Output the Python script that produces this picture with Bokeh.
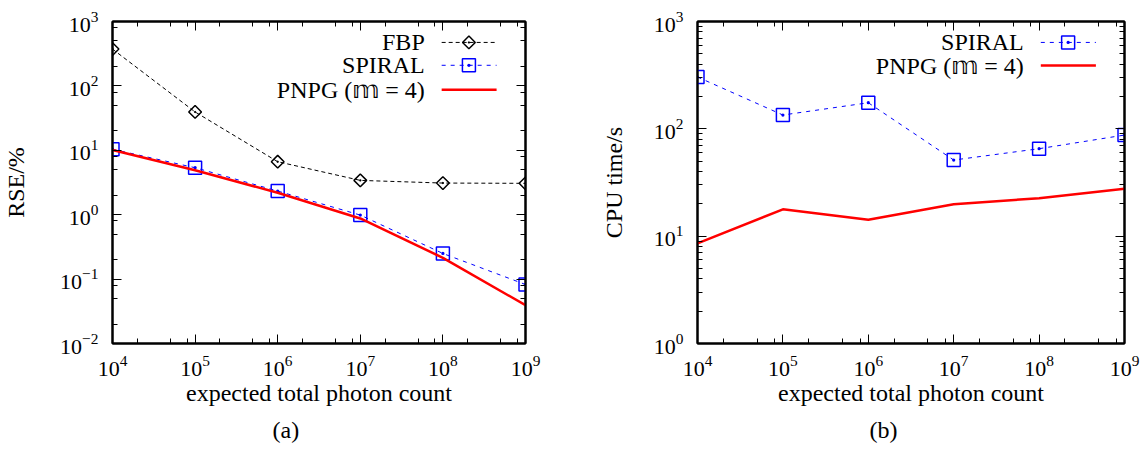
import math
from bokeh.plotting import figure
from bokeh.models import (FixedTicker, LogTickFormatter, CustomJSTickFormatter,
                          Range1d, LinearScale, LogAxis)
from bokeh.layouts import row
from bokeh.embed import file_html
from bokeh.resources import INLINE
from bokeh.core.properties import value

# ---------------- data ----------------
photons = [1e4, 1e5, 1e6, 1e7, 1e8, 1e9]
rse_fbp = [373, 39.4, 6.65, 3.41, 3.10, 3.07]
rse_spiral = [10.4, 5.36, 2.33, 0.986, 0.25, 0.0824]
rse_pnpg = [10.1, 4.89, 2.19, 0.875, 0.214, 0.0393]
cpu_spiral = [304, 134.5, 175, 51.2, 65.3, 87.5]
cpu_pnpg = [8.57, 17.8, 14.2, 19.8, 22.6, 27.7]

x_major = [1e4, 1e5, 1e6, 1e7, 1e8, 1e9]
x_minor = [m * 10.0 ** e for e in range(4, 9) for m in (2, 5, 8)]
rse_major = [1e-2, 1e-1, 1e0, 1e1, 1e2, 1e3]
rse_minor = [m * 10.0 ** e for e in range(-2, 3) for m in (2, 5, 8)]
cpu_major = [1e0, 1e1, 1e2, 1e3]
cpu_minor = [m * 10.0 ** e for e in range(0, 3) for m in range(2, 10)]

labels_a = ["FBP", "SPIRAL", "PNPG (\U0001D55E = 4)"]
labels_b = ["SPIRAL", "PNPG (\U0001D55E = 4)"]
xlabel = "expected total photon count"
ylabel_a = "RSE/%"
ylabel_b = "CPU time/s"

SERIF = "Liberation Serif"
BLUE = "#0000ff"
RED = "#ff0000"
BLACK = "#000000"


def style_axis(ax, major, minor, labels=True):
    ax.ticker = FixedTicker(ticks=major, minor_ticks=minor)
    ax.major_tick_in = 9
    ax.major_tick_out = 0
    ax.minor_tick_in = 5
    ax.minor_tick_out = 0
    ax.major_tick_line_color = BLACK
    ax.minor_tick_line_color = BLACK
    ax.major_tick_line_width = 1
    ax.minor_tick_line_width = 1
    ax.axis_line_color = BLACK
    ax.axis_line_width = 2
    if labels:
        ax.formatter = LogTickFormatter()
        ax.major_label_text_font = SERIF
        ax.major_label_text_font_size = "22px"
        ax.major_label_text_color = BLACK
        ax.axis_label_text_font = SERIF
        ax.axis_label_text_font_size = "24px"
        ax.axis_label_text_font_style = "normal"
        ax.axis_label_text_color = BLACK
    else:
        ax.formatter = CustomJSTickFormatter(code="return ''")
        ax.major_label_text_font_size = "0px"
        ax.major_label_standoff = 0


def make_panel(yr, ymaj, ymin, ylabel, ylab_standoff, caption, cap_offset, fw, bl, br):
    p = figure(x_axis_type="log", y_axis_type="log",
               x_range=Range1d(1e4, 1e9), y_range=Range1d(*yr),
               frame_width=fw, frame_height=322,
               min_border_left=bl, min_border_right=br,
               min_border_top=21, min_border_bottom=108,
               output_backend="svg", toolbar_location=None,
               title=caption, title_location="below")
    p.outline_line_color = BLACK
    p.outline_line_width = 2
    p.grid.visible = False
    p.title.text_font = SERIF
    p.title.text_font_size = "24px"
    p.title.text_font_style = "normal"
    p.title.text_color = BLACK
    p.title.align = "left"
    p.title.offset = cap_offset
    p.title.standoff = 13

    for xa in p.xaxis:
        style_axis(xa, x_major, x_minor)
        xa.axis_label = xlabel
        xa.major_label_standoff = 12
        xa.axis_label_standoff = 1
    for ya in p.yaxis:
        style_axis(ya, ymaj, ymin)
        ya.axis_label = ylabel
        ya.major_label_standoff = 14
        ya.axis_label_standoff = ylab_standoff

    top = LogAxis()
    style_axis(top, x_major, x_minor, labels=False)
    p.add_layout(top, "above")
    right = LogAxis()
    style_axis(right, ymaj, ymin, labels=False)
    p.add_layout(right, "right")

    # legend frame (0..1 over the plot frame)
    p.extra_x_ranges = {"leg": Range1d(0, 1)}
    p.extra_y_ranges = {"leg": Range1d(0, 1)}
    p.extra_x_scales = {"leg": LinearScale()}
    p.extra_y_scales = {"leg": LinearScale()}
    return p


def legend_entry(p, label, yfrac, text_right, x0, x1, xm, line_kw, marker_kw=None):
    p.text(x=[text_right], y=[yfrac], text=[label], x_range_name="leg", y_range_name="leg",
           text_align="right", text_baseline="middle", text_font=value(SERIF),
           text_font_size="24px", text_color=BLACK)
    p.line(x=[x0, x1], y=[yfrac, yfrac], x_range_name="leg", y_range_name="leg", **line_kw)
    if marker_kw:
        p.scatter(x=[xm], y=[yfrac], x_range_name="leg", y_range_name="leg", **marker_kw)


fbp_line = dict(line_color=BLACK, line_width=1, line_dash="4 3")
fbp_mark = dict(marker="square_dot", angle=math.pi / 4, size=9, fill_color=None,
                line_color=BLACK, line_width=1.5)
sp_line = dict(line_color=BLUE, line_width=1, line_dash="4 5")
sp_mark = dict(marker="square_dot", size=13, fill_color=None, line_color=BLUE, line_width=1.5)
pn_line = dict(line_color=RED, line_width=2.5)

# ---- panel (a) ----
pa = make_panel((1e-2, 1e3), rse_major, rse_minor, ylabel_a, 28, "(a)", 160, 413, 112, 30)
pa.line(photons, rse_fbp, **fbp_line)
pa.scatter(photons, rse_fbp, **fbp_mark)
pa.line(photons, rse_spiral, **sp_line)
pa.scatter(photons, rse_spiral, **sp_mark)
pa.line(photons, rse_pnpg, **pn_line)
legend_entry(pa, labels_a[0], 0.935, 0.756, 0.797, 0.930, 0.863, fbp_line, fbp_mark)
legend_entry(pa, labels_a[1], 0.864, 0.756, 0.797, 0.930, 0.863, sp_line, sp_mark)
legend_entry(pa, labels_a[2], 0.788, 0.756, 0.797, 0.930, 0.863, pn_line)

# ---- panel (b) ----
pb = make_panel((1e0, 1e3), cpu_major, cpu_minor, ylabel_b, 24, "(b)", 172, 427, 142, 18)
pb.line(photons, cpu_spiral, **sp_line)
pb.scatter(photons, cpu_spiral, **sp_mark)
pb.line(photons, cpu_pnpg, **pn_line)
legend_entry(pb, labels_b[0], 0.935, 0.764, 0.804, 0.933, 0.868, sp_line, sp_mark)
legend_entry(pb, labels_b[1], 0.863, 0.764, 0.804, 0.933, 0.868, pn_line)

layout = row(pa, pb)
open("out.html", "w").write(file_html(layout, INLINE))
